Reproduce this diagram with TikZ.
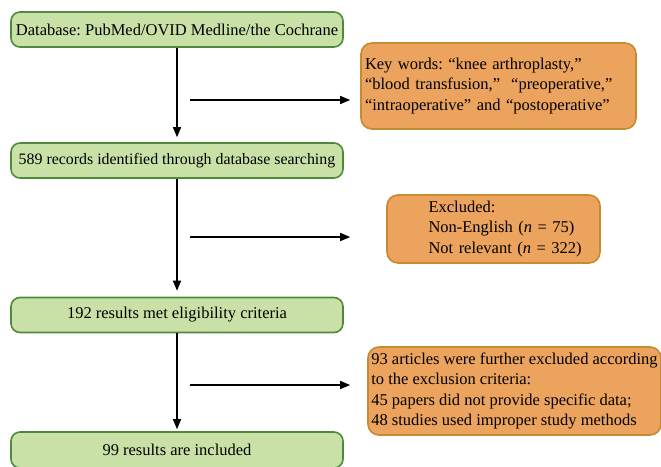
\documentclass[tikz,border=0pt]{standalone}
\usepackage{fontspec}
\setmainfont{Liberation Serif}
\usetikzlibrary{arrows.meta}
\definecolor{gfill}{HTML}{C9E1A6}
\definecolor{gline}{HTML}{4F8A3C}
\definecolor{ofill}{HTML}{EBA35E}
\definecolor{oline}{HTML}{C68A30}
\frenchspacing
\begin{document}
\begin{tikzpicture}[x=1pt,y=-1pt,
  gbox/.style={draw=gline,fill=gfill,line width=1.6pt,rounded corners=9pt,inner sep=0pt,
    minimum width=332pt,minimum height=35pt,font=\fontsize{16.5}{20}\selectfont},
  obox/.style={draw=oline,fill=ofill,line width=1.6pt,rounded corners=11pt,inner sep=0pt,
    align=left,font=\fontsize{16.5}{20.3}\selectfont},
  arr/.style={line width=1.5pt,-{Triangle[length=10pt,width=8pt]}}]
\useasboundingbox (0,0) rectangle (661,466);
\node[gbox] (b1) at (177,29.5) {Database: PubMed/OVID Medline/the Cochrane};
\node[gbox,font=\fontsize{15.9}{20}\selectfont] (b2) at (177,160.5) {589 records identified through database searching};
\node[gbox] (b3) at (177,315) {192 results met eligibility criteria};
\node[gbox,minimum height=36pt] (b4) at (177,450) {99 results are included};
\node[obox,text width=267pt,inner xsep=4pt,minimum height=86pt] (o1) at (498.5,86)
  {Key words: ``knee arthroplasty,''\\``blood transfusion,''~~``preoperative,''\\``intraoperative'' and ``postoperative''};
\node[obox,text width=130pt,minimum width=213pt,minimum height=68pt] (o2) at (493.5,229)
  {\mbox{Excluded:}\\\mbox{Non-English (\textit{n} = 75)}\\\mbox{Not relevant (\textit{n} = 322)}};
\node[obox,minimum width=293pt,minimum height=88pt] (o3) at (514.5,391)
  {93 articles were further excluded according\\to the exclusion criteria:\\45 papers did not provide specific data;\\48 studies used improper study methods};
\draw[arr,shorten >=5pt] (b1.south) -- (b2.north);
\draw[arr,shorten >=6pt] (b2.south) -- (b3.north);
\draw[arr,shorten >=2pt] (b3.south) -- (b4.north);
\coordinate (h1) at (190,100);
\coordinate (h2) at (190,237);
\coordinate (h3) at (190,385);
\draw[arr,shorten >=10pt] (h1) -- (h1 -| o1.west);
\draw[arr,shorten >=36pt] (h2) -- (h2 -| o2.west);
\draw[arr,shorten >=17pt] (h3) -- (h3 -| o3.west);
\end{tikzpicture}
\end{document}
